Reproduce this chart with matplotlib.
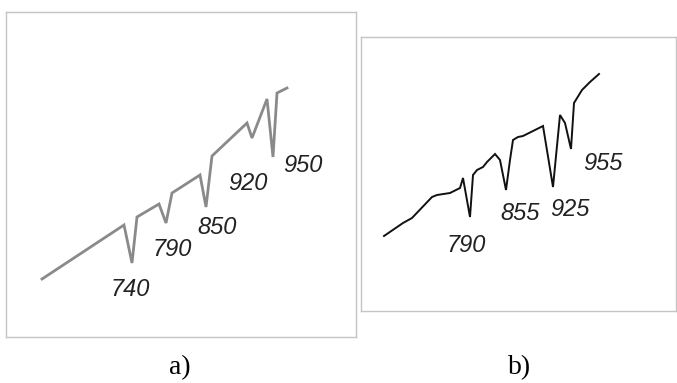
import matplotlib.pyplot as plt

# Panel a) - curve (local units inside the frame, y measured upward)
a_x = [36, 118, 126, 131, 153, 160, 166, 194, 200, 206, 241, 246, 261, 267, 271, 281]
a_y = [58, 112, 74, 120, 133, 114, 144, 162, 130, 181, 214, 199, 238, 180, 244, 249]
a_labels = ['740', '790', '850', '920', '950']
a_lab_x = [124, 166, 211, 242, 297]
a_lab_y = [47, 87, 109, 154, 172]

# Panel b) - curve
b_x = [23, 42, 51, 71, 76, 89, 99, 102, 109, 112, 116, 122, 126, 134, 139, 145,
       149, 152, 157, 162, 182, 192, 199, 204, 210, 213, 221, 229, 238]
b_y = [75, 88, 93, 114, 116, 118, 123, 133, 94, 136, 141, 144, 149, 157, 151, 121,
       151, 171, 174, 175, 185, 124, 196, 188, 162, 208, 221, 229, 237]
b_labels = ['790', '855', '925', '955']
b_lab_x = [105, 159, 209, 242]
b_lab_y = [66, 98, 101, 148]

W, H = 677, 383


def make_panel(fig, box, xs, ys, color, lw, labels, lx, ly):
    """box = (left, top, right, bottom) in pixels"""
    l, t, r, b = box
    ax = fig.add_axes([l / W, (H - b) / H, (r - l) / W, (b - t) / H])
    ax.plot(xs, ys, color=color, lw=lw, solid_joinstyle='miter')
    for s, x, y in zip(labels, lx, ly):
        ax.text(x, y, s, ha='center', va='center', fontsize=17,
                style='italic', family='Liberation Sans', color='#222222')
    ax.set_xlim(0, r - l)
    ax.set_ylim(0, b - t)
    ax.set_xticks([])
    ax.set_yticks([])
    for sp in ax.spines.values():
        sp.set_color('#c4c4c4')
        sp.set_linewidth(1.0)
    return ax


def main():
    fig = plt.figure(figsize=(W / 100, H / 100), dpi=100)

    make_panel(fig, (6, 12, 356, 337), a_x, a_y, '#8a8a8a', 2.0,
               a_labels, a_lab_x, a_lab_y)
    make_panel(fig, (361, 37, 676, 311), b_x, b_y, '#111111', 1.4,
               b_labels, b_lab_x, b_lab_y)

    # captions under the panels
    fig.text(180 / W, 1 - 368 / H, 'a)', ha='center', va='center',
             fontsize=20, family='Liberation Serif')
    fig.text(520 / W, 1 - 368 / H, 'b)', ha='center', va='center',
             fontsize=20, family='Liberation Serif')

    fig.savefig('out.png', dpi=100)


if __name__ == "__main__":
    main()
